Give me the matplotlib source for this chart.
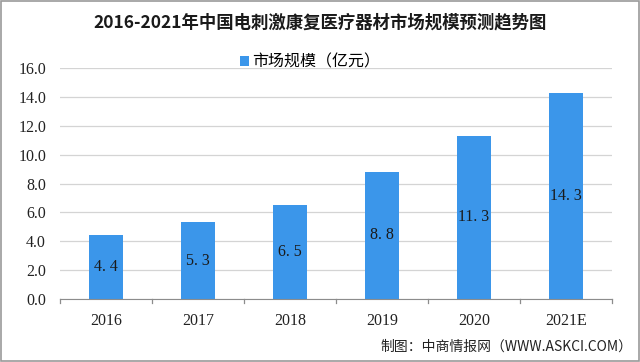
import matplotlib
matplotlib.use("Agg")
import matplotlib.pyplot as plt
from matplotlib.patches import Rectangle

plt.rcParams["font.family"] = ["Noto Sans CJK SC", "DejaVu Sans"]

years = ["2016", "2017", "2018", "2019", "2020", "2021E"]
values = [4.4, 5.3, 6.5, 8.8, 11.3, 14.3]
yticks = [0, 2, 4, 6, 8, 10, 12, 14, 16]

bar_color = "#3b96ea"
num_font = ["Liberation Serif", "DejaVu Serif"]

fig = plt.figure(figsize=(6.4, 3.62), dpi=100)
ax = fig.add_axes([60 / 640, 1 - 299 / 362, 552 / 640, 231 / 362])

x = range(len(years))
bars = ax.bar(x, values, width=0.37, color=bar_color, zorder=2, label="市场规模（亿元）")
for xi, v in zip(x, values):
    ax.text(xi, v / 2, " ".join(f"{v:.1f}".split(".")).replace(" ", ". "),
            ha="center", va="center", fontsize=11.5,
            family=num_font, color="#1a1a1a", zorder=3)

ax.set_xlim(-0.5, len(years) - 0.5)
ax.set_ylim(0, 16)
ax.set_yticks(yticks)
ax.set_yticklabels([f"{t:.1f}" for t in yticks], family=num_font, fontsize=11.5)
ax.set_xticks(list(x))
ax.set_xticklabels(years, family=num_font, fontsize=11.5)
ax.grid(axis="y", color="#d4d4d4", linewidth=0.9, zorder=0)
for s in ["top", "right", "left"]:
    ax.spines[s].set_visible(False)
ax.spines["bottom"].set_color("#8c8c8c")
ax.tick_params(axis="y", length=0, pad=10, colors="#222222")
ax.tick_params(axis="x", length=0, pad=10, colors="#222222")
# category separators on x axis
for b in [i - 0.5 for i in range(len(years) + 1)]:
    ax.plot([b, b], [0, -0.25], color="#8c8c8c", lw=0.9, clip_on=False)

fig.text(0.5, 1 - 22 / 362, "2016-2021年中国电刺激康复医疗器材市场规模预测趋势图",
         ha="center", va="center", fontsize=12.5, fontweight="bold", color="#1a1a1a")
ax.legend(loc="center", bbox_to_anchor=(0.485, 1 - 62 / 362), bbox_transform=fig.transFigure,
          frameon=False, fontsize=11.5, handlelength=0.55, handleheight=0.55,
          handletextpad=0.2)
fig.text(632 / 640, 1 - 347 / 362, "制图：中商情报网（WWW.ASKCI.COM）",
         ha="right", va="center", fontsize=10, color="#222222")

fig.patches.append(Rectangle((0.002, 0.003), 0.996, 0.994, transform=fig.transFigure,
                             fill=False, edgecolor="#9a9a9a", linewidth=1.2))

fig.savefig("out.png", dpi=100)
